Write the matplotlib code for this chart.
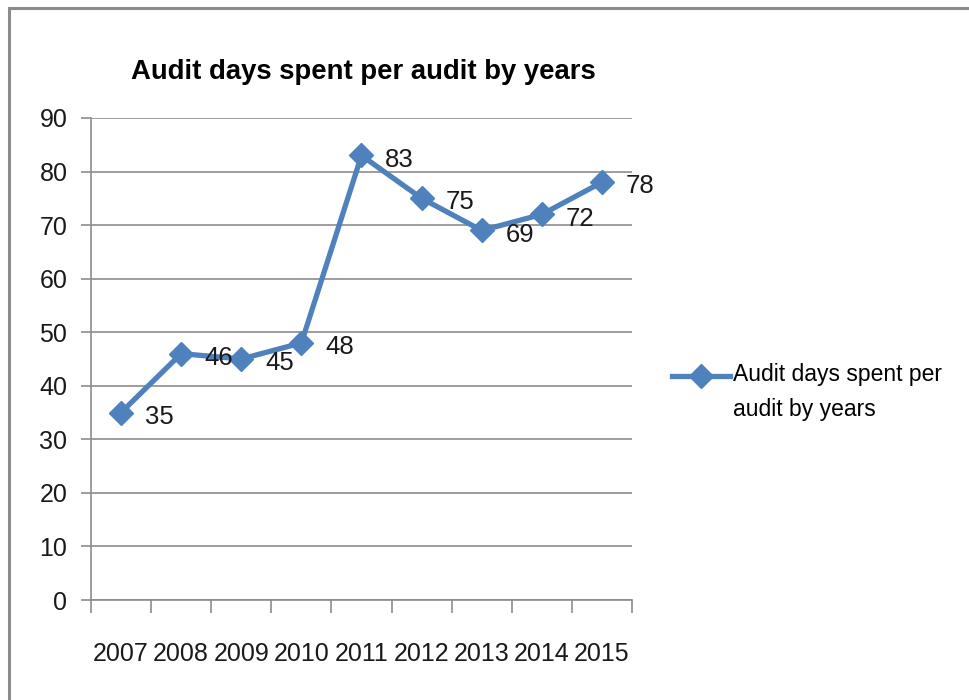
import matplotlib
matplotlib.use("Agg")
import matplotlib.pyplot as plt
from matplotlib.patches import Rectangle
from matplotlib.lines import Line2D
from matplotlib.legend_handler import HandlerLine2D

years = ["2007", "2008", "2009", "2010", "2011", "2012", "2013", "2014", "2015"]
days = [35, 46, 45, 48, 83, 75, 69, 72, 78]
series_name = "Audit days spent per audit by years"
legend_label = "Audit days spent per\naudit by years"
y_ticks = [0, 10, 20, 30, 40, 50, 60, 70, 80, 90]

plt.rcParams['font.family'] = ['Liberation Sans', 'DejaVu Sans']

W, H = 970, 700
fig = plt.figure(figsize=(W / 100, H / 100), dpi=100)
fig.patch.set_facecolor("white")

# outer frame (left and top visible)
fig.add_artist(Rectangle((9 / W, -0.05), 1.2, 1 - 8 / H + 0.05, transform=fig.transFigure,
                         fill=False, edgecolor="#8c8c8c", linewidth=2.2))

ax = fig.add_axes([91 / W, 1 - 600 / H, (632 - 91) / W, (600 - 118) / H])
color = "#4f81bd"
x = list(range(len(years)))
ax.plot(x, days, color=color, linewidth=3.8, marker="D", markersize=12, zorder=3)

for xi, v in zip(x, days):
    ax.annotate(str(v), (xi, v), xytext=(17, -3), textcoords="offset points",
                ha="left", va="center", fontsize=18.5, color="#1a1a1a")

ax.set_xlim(-0.5, len(years) - 0.5)
ax.set_ylim(0, 90)
ax.set_yticks(y_ticks)
ax.set_yticklabels([str(t) for t in y_ticks], fontsize=18, color="#1a1a1a")
ax.grid(axis="y", color="#8c8c8c", linewidth=1.2)
ax.set_axisbelow(True)

ax.set_xticks(x)
ax.set_xticklabels(years, fontsize=18, color="#1a1a1a")
ax.set_xticks([i - 0.5 for i in range(len(years) + 1)], minor=True)
ax.tick_params(axis="x", which="major", length=0, pad=30)
ax.tick_params(axis="x", which="minor", length=9, color="#8c8c8c", width=1.2, direction="out")
ax.tick_params(axis="y", length=7, color="#8c8c8c", width=1.2, pad=10)

for s in ["top", "right"]:
    ax.spines[s].set_visible(False)
for s in ["left", "bottom"]:
    ax.spines[s].set_color("#8c8c8c")
    ax.spines[s].set_linewidth(1.2)

fig.text(363 / W, 1 - 72 / H, series_name, ha="center", va="center",
         fontsize=19.8, fontweight="bold", color="#000000")


class TopAlignedHandler(HandlerLine2D):
    def create_artists(self, legend, orig_handle, xdescent, ydescent, width, height,
                       fontsize, trans):
        return super().create_artists(legend, orig_handle, xdescent, ydescent - 25,
                                      width, height, fontsize, trans)


handle = Line2D([0], [0], color=color, linewidth=3.8, marker="D", markersize=12)
leg = fig.legend([handle], [legend_label], loc="center left",
                 bbox_to_anchor=(663 / W, 1 - 392 / H), frameon=False,
                 fontsize=16.5, handlelength=2.53, handletextpad=0.13, borderaxespad=0,
                 handler_map={Line2D: TopAlignedHandler()})
for t in leg.get_texts():
    t.set_linespacing(1.7)

fig.savefig("out.png", dpi=100)
